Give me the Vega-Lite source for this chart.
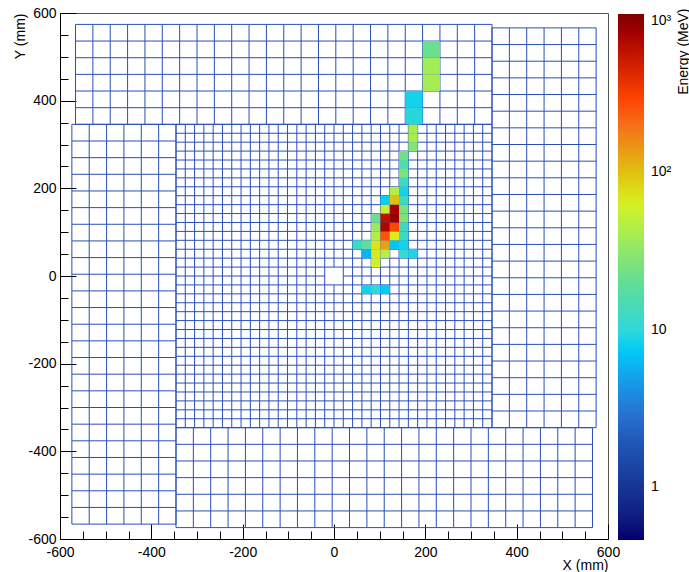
{
"$schema": "https://vega.github.io/schema/vega-lite/v6.json",
"width": 548, "height": 526,
"autosize": {"type": "none"},
"padding": {"left": 60, "top": 13, "right": 81, "bottom": 33},
"background": "white",
"config": {"font": "Liberation Sans", "view": {"stroke": "#555", "strokeWidth": 1}},
"datasets": {
"grid": [
{"x":-346,"x2":-346,"y":-346,"y2":346},{"x":-325.65,"x2":-325.65,"y":-346,"y2":346},{"x":-305.29,"x2":-305.29,"y":-346,"y2":346},{"x":-284.94,"x2":-284.94,"y":-346,"y2":346},{"x":-264.59,"x2":-264.59,"y":-346,"y2":346},{"x":-244.24,"x2":-244.24,"y":-346,"y2":346},{"x":-223.88,"x2":-223.88,"y":-346,"y2":346},{"x":-203.53,"x2":-203.53,"y":-346,"y2":346},{"x":-183.18,"x2":-183.18,"y":-346,"y2":346},{"x":-162.82,"x2":-162.82,"y":-346,"y2":346},{"x":-142.47,"x2":-142.47,"y":-346,"y2":346},{"x":-122.12,"x2":-122.12,"y":-346,"y2":346},{"x":-101.76,"x2":-101.76,"y":-346,"y2":346},{"x":-81.41,"x2":-81.41,"y":-346,"y2":346},{"x":-61.06,"x2":-61.06,"y":-346,"y2":346},{"x":-40.71,"x2":-40.71,"y":-346,"y2":346},{"x":-20.35,"x2":-20.35,"y":-346,"y2":346},
{"x":0,"x2":0,"y":-346,"y2":-20.35},{"x":0,"x2":0,"y":20.35,"y2":346},
{"x":20.35,"x2":20.35,"y":-346,"y2":346},{"x":40.71,"x2":40.71,"y":-346,"y2":346},{"x":61.06,"x2":61.06,"y":-346,"y2":346},{"x":81.41,"x2":81.41,"y":-346,"y2":346},{"x":101.76,"x2":101.76,"y":-346,"y2":346},{"x":122.12,"x2":122.12,"y":-346,"y2":346},{"x":142.47,"x2":142.47,"y":-346,"y2":346},{"x":162.82,"x2":162.82,"y":-346,"y2":346},{"x":183.18,"x2":183.18,"y":-346,"y2":346},{"x":203.53,"x2":203.53,"y":-346,"y2":346},{"x":223.88,"x2":223.88,"y":-346,"y2":346},{"x":244.24,"x2":244.24,"y":-346,"y2":346},{"x":264.59,"x2":264.59,"y":-346,"y2":346},{"x":284.94,"x2":284.94,"y":-346,"y2":346},{"x":305.29,"x2":305.29,"y":-346,"y2":346},{"x":325.65,"x2":325.65,"y":-346,"y2":346},{"x":346,"x2":346,"y":-346,"y2":346},
{"y":-346,"y2":-346,"x":-346,"x2":346},{"y":-325.65,"y2":-325.65,"x":-346,"x2":346},{"y":-305.29,"y2":-305.29,"x":-346,"x2":346},{"y":-284.94,"y2":-284.94,"x":-346,"x2":346},{"y":-264.59,"y2":-264.59,"x":-346,"x2":346},{"y":-244.24,"y2":-244.24,"x":-346,"x2":346},{"y":-223.88,"y2":-223.88,"x":-346,"x2":346},{"y":-203.53,"y2":-203.53,"x":-346,"x2":346},{"y":-183.18,"y2":-183.18,"x":-346,"x2":346},{"y":-162.82,"y2":-162.82,"x":-346,"x2":346},{"y":-142.47,"y2":-142.47,"x":-346,"x2":346},{"y":-122.12,"y2":-122.12,"x":-346,"x2":346},{"y":-101.76,"y2":-101.76,"x":-346,"x2":346},{"y":-81.41,"y2":-81.41,"x":-346,"x2":346},{"y":-61.06,"y2":-61.06,"x":-346,"x2":346},{"y":-40.71,"y2":-40.71,"x":-346,"x2":346},{"y":-20.35,"y2":-20.35,"x":-346,"x2":346},
{"y":0,"y2":0,"x":-346,"x2":-20.35},{"y":0,"y2":0,"x":20.35,"x2":346},
{"y":20.35,"y2":20.35,"x":-346,"x2":346},{"y":40.71,"y2":40.71,"x":-346,"x2":346},{"y":61.06,"y2":61.06,"x":-346,"x2":346},{"y":81.41,"y2":81.41,"x":-346,"x2":346},{"y":101.76,"y2":101.76,"x":-346,"x2":346},{"y":122.12,"y2":122.12,"x":-346,"x2":346},{"y":142.47,"y2":142.47,"x":-346,"x2":346},{"y":162.82,"y2":162.82,"x":-346,"x2":346},{"y":183.18,"y2":183.18,"x":-346,"x2":346},{"y":203.53,"y2":203.53,"x":-346,"x2":346},{"y":223.88,"y2":223.88,"x":-346,"x2":346},{"y":244.24,"y2":244.24,"x":-346,"x2":346},{"y":264.59,"y2":264.59,"x":-346,"x2":346},{"y":284.94,"y2":284.94,"x":-346,"x2":346},{"y":305.29,"y2":305.29,"x":-346,"x2":346},{"y":325.65,"y2":325.65,"x":-346,"x2":346},{"y":346,"y2":346,"x":-346,"x2":346},
{"x":-566,"x2":-566,"y":346,"y2":574},{"x":-528,"x2":-528,"y":346,"y2":574},{"x":-490,"x2":-490,"y":346,"y2":574},{"x":-452,"x2":-452,"y":346,"y2":574},{"x":-414,"x2":-414,"y":346,"y2":574},{"x":-376,"x2":-376,"y":346,"y2":574},{"x":-338,"x2":-338,"y":346,"y2":574},{"x":-300,"x2":-300,"y":346,"y2":574},{"x":-262,"x2":-262,"y":346,"y2":574},{"x":-224,"x2":-224,"y":346,"y2":574},{"x":-186,"x2":-186,"y":346,"y2":574},{"x":-148,"x2":-148,"y":346,"y2":574},{"x":-110,"x2":-110,"y":346,"y2":574},{"x":-72,"x2":-72,"y":346,"y2":574},{"x":-34,"x2":-34,"y":346,"y2":574},{"x":4,"x2":4,"y":346,"y2":574},{"x":42,"x2":42,"y":346,"y2":574},{"x":80,"x2":80,"y":346,"y2":574},{"x":118,"x2":118,"y":346,"y2":574},{"x":156,"x2":156,"y":346,"y2":574},{"x":194,"x2":194,"y":346,"y2":574},{"x":232,"x2":232,"y":346,"y2":574},{"x":270,"x2":270,"y":346,"y2":574},{"x":308,"x2":308,"y":346,"y2":574},{"x":346,"x2":346,"y":346,"y2":574},
{"y":346,"y2":346,"x":-566,"x2":346},{"y":384,"y2":384,"x":-566,"x2":346},{"y":422,"y2":422,"x":-566,"x2":346},{"y":460,"y2":460,"x":-566,"x2":346},{"y":498,"y2":498,"x":-566,"x2":346},{"y":536,"y2":536,"x":-566,"x2":346},{"y":574,"y2":574,"x":-566,"x2":346},
{"x":346,"x2":346,"y":-346,"y2":566},{"x":384,"x2":384,"y":-346,"y2":566},{"x":422,"x2":422,"y":-346,"y2":566},{"x":460,"x2":460,"y":-346,"y2":566},{"x":498,"x2":498,"y":-346,"y2":566},{"x":536,"x2":536,"y":-346,"y2":566},{"x":574,"x2":574,"y":-346,"y2":566},
{"y":-346,"y2":-346,"x":346,"x2":574},{"y":-308,"y2":-308,"x":346,"x2":574},{"y":-270,"y2":-270,"x":346,"x2":574},{"y":-232,"y2":-232,"x":346,"x2":574},{"y":-194,"y2":-194,"x":346,"x2":574},{"y":-156,"y2":-156,"x":346,"x2":574},{"y":-118,"y2":-118,"x":346,"x2":574},{"y":-80,"y2":-80,"x":346,"x2":574},{"y":-42,"y2":-42,"x":346,"x2":574},{"y":-4,"y2":-4,"x":346,"x2":574},{"y":34,"y2":34,"x":346,"x2":574},{"y":72,"y2":72,"x":346,"x2":574},{"y":110,"y2":110,"x":346,"x2":574},{"y":148,"y2":148,"x":346,"x2":574},{"y":186,"y2":186,"x":346,"x2":574},{"y":224,"y2":224,"x":346,"x2":574},{"y":262,"y2":262,"x":346,"x2":574},{"y":300,"y2":300,"x":346,"x2":574},{"y":338,"y2":338,"x":346,"x2":574},{"y":376,"y2":376,"x":346,"x2":574},{"y":414,"y2":414,"x":346,"x2":574},{"y":452,"y2":452,"x":346,"x2":574},{"y":490,"y2":490,"x":346,"x2":574},{"y":528,"y2":528,"x":346,"x2":574},{"y":566,"y2":566,"x":346,"x2":574},
{"x":-346,"x2":-346,"y":-574,"y2":-346},{"x":-308,"x2":-308,"y":-574,"y2":-346},{"x":-270,"x2":-270,"y":-574,"y2":-346},{"x":-232,"x2":-232,"y":-574,"y2":-346},{"x":-194,"x2":-194,"y":-574,"y2":-346},{"x":-156,"x2":-156,"y":-574,"y2":-346},{"x":-118,"x2":-118,"y":-574,"y2":-346},{"x":-80,"x2":-80,"y":-574,"y2":-346},{"x":-42,"x2":-42,"y":-574,"y2":-346},{"x":-4,"x2":-4,"y":-574,"y2":-346},{"x":34,"x2":34,"y":-574,"y2":-346},{"x":72,"x2":72,"y":-574,"y2":-346},{"x":110,"x2":110,"y":-574,"y2":-346},{"x":148,"x2":148,"y":-574,"y2":-346},{"x":186,"x2":186,"y":-574,"y2":-346},{"x":224,"x2":224,"y":-574,"y2":-346},{"x":262,"x2":262,"y":-574,"y2":-346},{"x":300,"x2":300,"y":-574,"y2":-346},{"x":338,"x2":338,"y":-574,"y2":-346},{"x":376,"x2":376,"y":-574,"y2":-346},{"x":414,"x2":414,"y":-574,"y2":-346},{"x":452,"x2":452,"y":-574,"y2":-346},{"x":490,"x2":490,"y":-574,"y2":-346},{"x":528,"x2":528,"y":-574,"y2":-346},{"x":566,"x2":566,"y":-574,"y2":-346},
{"y":-574,"y2":-574,"x":-346,"x2":566},{"y":-536,"y2":-536,"x":-346,"x2":566},{"y":-498,"y2":-498,"x":-346,"x2":566},{"y":-460,"y2":-460,"x":-346,"x2":566},{"y":-422,"y2":-422,"x":-346,"x2":566},{"y":-384,"y2":-384,"x":-346,"x2":566},{"y":-346,"y2":-346,"x":-346,"x2":566},
{"x":-574,"x2":-574,"y":-566,"y2":346},{"x":-536,"x2":-536,"y":-566,"y2":346},{"x":-498,"x2":-498,"y":-566,"y2":346},{"x":-460,"x2":-460,"y":-566,"y2":346},{"x":-422,"x2":-422,"y":-566,"y2":346},{"x":-384,"x2":-384,"y":-566,"y2":346},{"x":-346,"x2":-346,"y":-566,"y2":346},
{"y":-566,"y2":-566,"x":-574,"x2":-346},{"y":-528,"y2":-528,"x":-574,"x2":-346},{"y":-490,"y2":-490,"x":-574,"x2":-346},{"y":-452,"y2":-452,"x":-574,"x2":-346},{"y":-414,"y2":-414,"x":-574,"x2":-346},{"y":-376,"y2":-376,"x":-574,"x2":-346},{"y":-338,"y2":-338,"x":-574,"x2":-346},{"y":-300,"y2":-300,"x":-574,"x2":-346},{"y":-262,"y2":-262,"x":-574,"x2":-346},{"y":-224,"y2":-224,"x":-574,"x2":-346},{"y":-186,"y2":-186,"x":-574,"x2":-346},{"y":-148,"y2":-148,"x":-574,"x2":-346},{"y":-110,"y2":-110,"x":-574,"x2":-346},{"y":-72,"y2":-72,"x":-574,"x2":-346},{"y":-34,"y2":-34,"x":-574,"x2":-346},{"y":4,"y2":4,"x":-574,"x2":-346},{"y":42,"y2":42,"x":-574,"x2":-346},{"y":80,"y2":80,"x":-574,"x2":-346},{"y":118,"y2":118,"x":-574,"x2":-346},{"y":156,"y2":156,"x":-574,"x2":-346},{"y":194,"y2":194,"x":-574,"x2":-346},{"y":232,"y2":232,"x":-574,"x2":-346},{"y":270,"y2":270,"x":-574,"x2":-346},{"y":308,"y2":308,"x":-574,"x2":-346},{"y":346,"y2":346,"x":-574,"x2":-346}
],
"cells": [
{"x":40.71,"x2":61.06,"y":61.06,"y2":81.41,"e":12},
{"x":61.06,"x2":81.41,"y":61.06,"y2":81.41,"e":19},
{"x":61.06,"x2":81.41,"y":40.71,"y2":61.06,"e":6},
{"x":61.06,"x2":81.41,"y":-40.71,"y2":-20.35,"e":8.5},
{"x":81.41,"x2":101.76,"y":20.35,"y2":40.71,"e":60},
{"x":81.41,"x2":101.76,"y":40.71,"y2":61.06,"e":68},
{"x":81.41,"x2":101.76,"y":61.06,"y2":81.41,"e":72},
{"x":81.41,"x2":101.76,"y":81.41,"y2":101.76,"e":45},
{"x":81.41,"x2":101.76,"y":101.76,"y2":122.12,"e":36},
{"x":81.41,"x2":101.76,"y":122.12,"y2":142.47,"e":22},
{"x":81.41,"x2":101.76,"y":-40.71,"y2":-20.35,"e":10},
{"x":101.76,"x2":122.12,"y":40.71,"y2":61.06,"e":45},
{"x":101.76,"x2":122.12,"y":61.06,"y2":81.41,"e":130},
{"x":101.76,"x2":122.12,"y":81.41,"y2":101.76,"e":250},
{"x":101.76,"x2":122.12,"y":101.76,"y2":122.12,"e":700},
{"x":101.76,"x2":122.12,"y":122.12,"y2":142.47,"e":600},
{"x":101.76,"x2":122.12,"y":142.47,"y2":162.82,"e":55},
{"x":101.76,"x2":122.12,"y":162.82,"y2":183.18,"e":8},
{"x":101.76,"x2":122.12,"y":-40.71,"y2":-20.35,"e":7.5},
{"x":122.12,"x2":142.47,"y":61.06,"y2":81.41,"e":7},
{"x":122.12,"x2":142.47,"y":81.41,"y2":101.76,"e":65},
{"x":122.12,"x2":142.47,"y":101.76,"y2":122.12,"e":280},
{"x":122.12,"x2":142.47,"y":122.12,"y2":142.47,"e":800},
{"x":122.12,"x2":142.47,"y":142.47,"y2":162.82,"e":750},
{"x":122.12,"x2":142.47,"y":162.82,"y2":183.18,"e":100},
{"x":122.12,"x2":142.47,"y":183.18,"y2":203.53,"e":45},
{"x":142.47,"x2":162.82,"y":40.71,"y2":61.06,"e":11},
{"x":142.47,"x2":162.82,"y":61.06,"y2":81.41,"e":8.5},
{"x":142.47,"x2":162.82,"y":81.41,"y2":101.76,"e":13},
{"x":142.47,"x2":162.82,"y":101.76,"y2":122.12,"e":13},
{"x":142.47,"x2":162.82,"y":122.12,"y2":142.47,"e":27},
{"x":142.47,"x2":162.82,"y":142.47,"y2":162.82,"e":26},
{"x":142.47,"x2":162.82,"y":162.82,"y2":183.18,"e":13},
{"x":142.47,"x2":162.82,"y":183.18,"y2":203.53,"e":8.5},
{"x":142.47,"x2":162.82,"y":203.53,"y2":223.88,"e":13},
{"x":142.47,"x2":162.82,"y":223.88,"y2":244.24,"e":27},
{"x":142.47,"x2":162.82,"y":244.24,"y2":264.59,"e":17},
{"x":142.47,"x2":162.82,"y":264.59,"y2":284.94,"e":23},
{"x":162.82,"x2":183.18,"y":40.71,"y2":61.06,"e":9},
{"x":162.82,"x2":183.18,"y":284.94,"y2":305.29,"e":28},
{"x":162.82,"x2":183.18,"y":305.29,"y2":325.65,"e":40},
{"x":162.82,"x2":183.18,"y":325.65,"y2":346,"e":40},
{"x":156,"x2":194,"y":346,"y2":384,"e":9.5},
{"x":156,"x2":194,"y":384,"y2":422,"e":8.5},
{"x":194,"x2":232,"y":422,"y2":460,"e":40},
{"x":194,"x2":232,"y":460,"y2":498,"e":38},
{"x":194,"x2":232,"y":498,"y2":536,"e":22}
]
},
"layer": [
{
"data": {"name": "grid"},
"mark": {"type": "rule", "color": "#2a4fb8", "strokeWidth": 1},
"encoding": {
"x": {"field": "x", "type": "quantitative", "scale": {"domain": [-600, 600], "nice": false, "zero": false},
 "axis": {"title": "X (mm)", "values": [-600,-550,-500,-450,-400,-350,-300,-250,-200,-150,-100,-50,0,50,100,150,200,250,300,350,400,450,500,550,600],
  "labelExpr": "datum.value % 200 === 0 ? (datum.value < 0 ? '-' + (-datum.value) : '' + datum.value) : ''",
  "tickSize": {"condition": {"test": "datum.value % 200 === 0", "value": -15}, "value": -8},
  "tickColor": "black", "domainColor": "black", "labelColor": "black", "labelFont": "Liberation Sans", "labelFontSize": 14,
  "labelPadding": 21, "labelOverlap": false, "labelFlush": false, "grid": false,
  "titleFont": "Liberation Sans", "titleFontSize": 14, "titleFontWeight": "normal", "titleColor": "black",
  "titleAlign": "right", "titleBaseline": "middle", "titleX": 548, "titleY": 26}},
"x2": {"field": "x2"},
"y": {"field": "y", "type": "quantitative", "scale": {"domain": [-600, 600], "nice": false, "zero": false},
 "axis": {"orient": "left", "title": "Y (mm)", "values": [-600,-550,-500,-450,-400,-350,-300,-250,-200,-150,-100,-50,0,50,100,150,200,250,300,350,400,450,500,550,600],
  "labelExpr": "datum.value % 200 === 0 ? (datum.value < 0 ? '-' + (-datum.value) : '' + datum.value) : ''",
  "tickSize": {"condition": {"test": "datum.value % 200 === 0", "value": -16}, "value": -8},
  "tickColor": "black", "domainColor": "black", "labelColor": "black", "labelFont": "Liberation Sans", "labelFontSize": 14,
  "labelPadding": 20, "labelOverlap": false, "labelFlush": false, "grid": false,
  "titleFont": "Liberation Sans", "titleFontSize": 14, "titleFontWeight": "normal", "titleColor": "black",
  "titleAngle": 270, "titleAlign": "right", "titleBaseline": "middle", "titleX": -40, "titleY": 0}},
"y2": {"field": "y2"}
}
},
{
"data": {"name": "cells"},
"mark": {"type": "rect", "strokeWidth": 0},
"encoding": {
"x": {"field": "x", "type": "quantitative", "scale": {"domain": [-600, 600], "nice": false, "zero": false},
 "axis": {"title": "X (mm)", "values": [-600,-550,-500,-450,-400,-350,-300,-250,-200,-150,-100,-50,0,50,100,150,200,250,300,350,400,450,500,550,600],
  "labelExpr": "datum.value % 200 === 0 ? (datum.value < 0 ? '-' + (-datum.value) : '' + datum.value) : ''",
  "tickSize": {"condition": {"test": "datum.value % 200 === 0", "value": -15}, "value": -8},
  "tickColor": "black", "domainColor": "black", "labelColor": "black", "labelFont": "Liberation Sans", "labelFontSize": 14,
  "labelPadding": 21, "labelOverlap": false, "labelFlush": false, "grid": false,
  "titleFont": "Liberation Sans", "titleFontSize": 14, "titleFontWeight": "normal", "titleColor": "black",
  "titleAlign": "right", "titleBaseline": "middle", "titleX": 548, "titleY": 26}},
"x2": {"field": "x2"},
"y": {"field": "y", "type": "quantitative", "scale": {"domain": [-600, 600], "nice": false, "zero": false},
 "axis": {"orient": "right", "title": "Energy (MeV)", "ticks": false, "labels": false, "domain": false, "grid": false,
  "titleFont": "Liberation Sans", "titleFontSize": 14, "titleFontWeight": "normal", "titleColor": "black",
  "titleAngle": 270, "titleAlign": "right", "titleBaseline": "middle", "titleX": 75, "titleY": -5}},
"y2": {"field": "y2"},
"color": {"field": "e", "type": "quantitative",
 "scale": {"type": "log", "interpolate": "rgb",
  "domain": [0.464, 0.65, 1.06, 1.73, 2.82, 4.58, 7.46, 10, 15.5, 25, 41, 64, 99, 177, 288, 470, 766, 1000],
  "range": ["#000070", "#101c80", "#183898", "#2050b0", "#2870d0", "#1898e8", "#00ccf8", "#30d8d8", "#48dcb0", "#78e080", "#a8ee50", "#d8f020", "#e0c010", "#f47a20", "#ff4500", "#d42000", "#a00000", "#7f0000"]},
 "legend": {"orient": "none", "legendX": 558, "legendY": 1, "direction": "vertical", "gradientLength": 526, "gradientThickness": 26,
  "gradientStrokeWidth": 0, "values": [1, 10, 100, 1000],
  "labelExpr": "datum.value >= 999 ? '10³' : datum.value >= 99 ? '10²' : datum.value >= 9 ? '10' : '1'",
  "labelFont": "Liberation Sans", "labelFontSize": 14, "labelColor": "black", "labelOffset": 7, "labelOverlap": false, "title": null}}
}
}
],
"resolve": {"axis": {"y": "independent"}}
}
